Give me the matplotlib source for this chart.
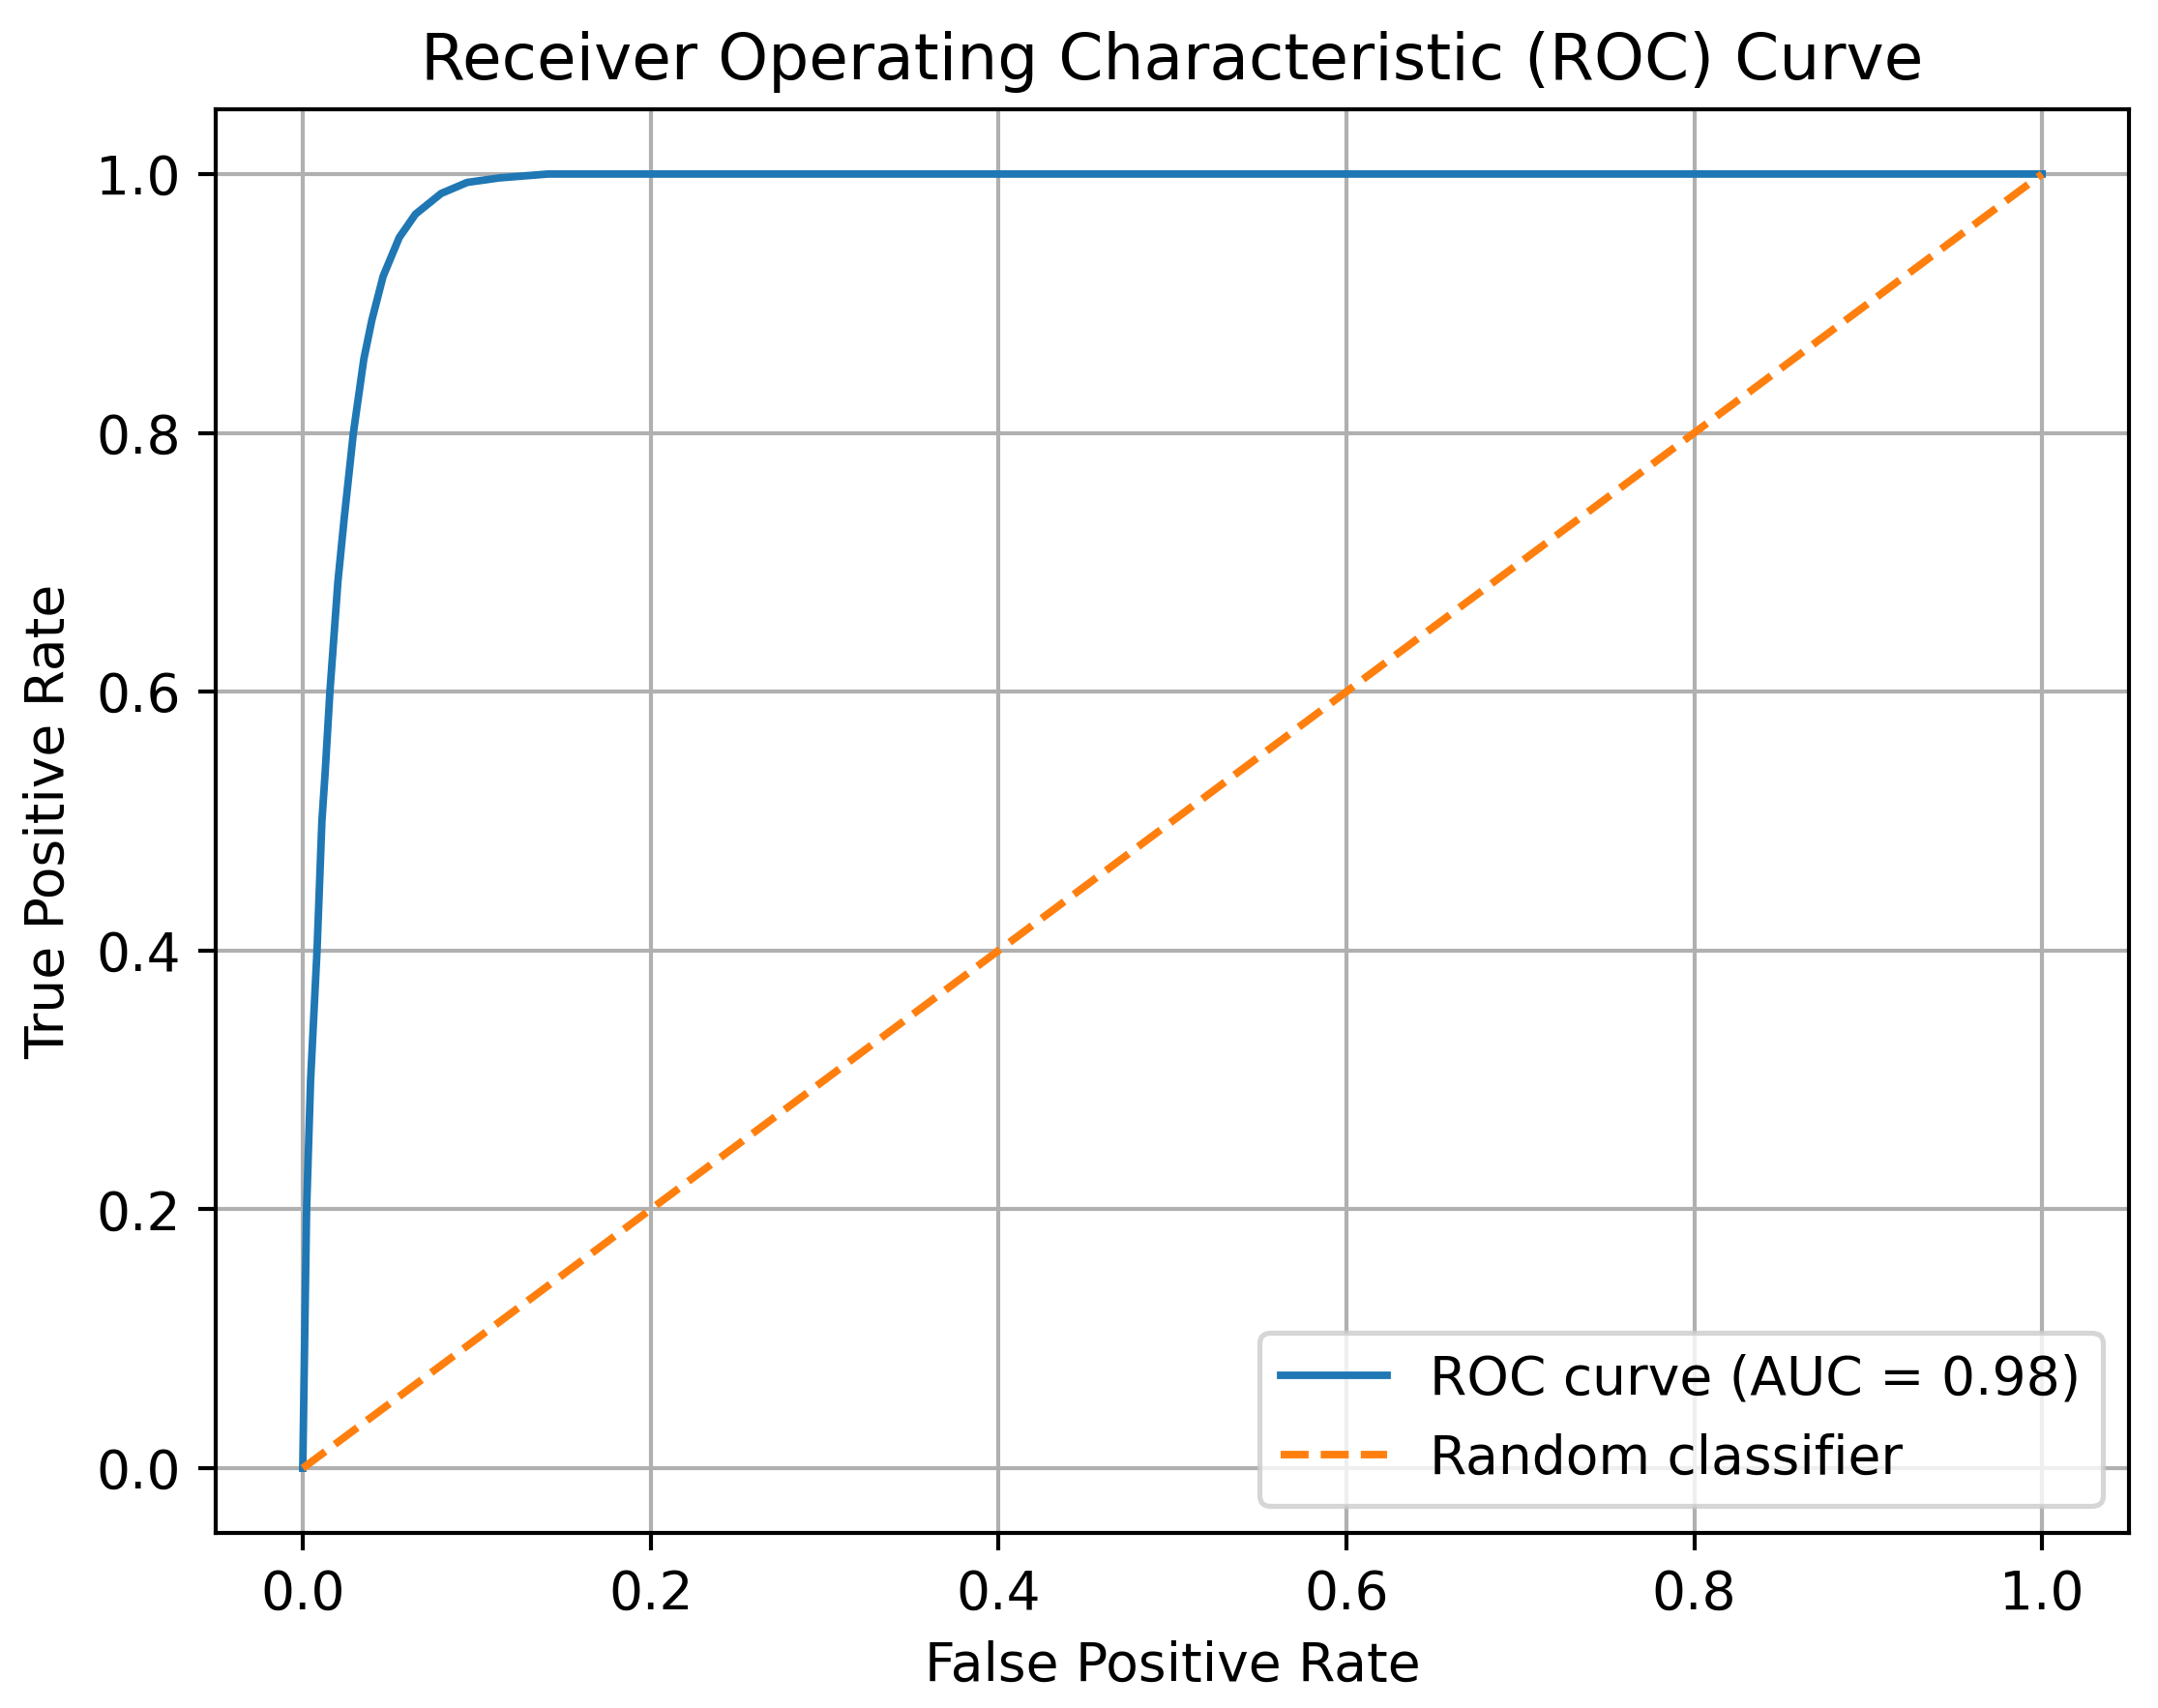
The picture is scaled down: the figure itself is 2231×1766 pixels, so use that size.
import matplotlib
matplotlib.use("Agg")
import matplotlib.pyplot as plt

plt.rcParams["font.size"] = 10.6
plt.rcParams["axes.titlesize"] = 12.7

# ROC curve
fpr = [0.0, 0.0022, 0.0045, 0.0082, 0.011, 0.0128, 0.0156, 0.0175, 0.0202,
       0.0239, 0.0291, 0.0351, 0.0397, 0.0462, 0.0555, 0.0648, 0.0796,
       0.0945, 0.113, 0.141, 1.0]
tpr = [0.0, 0.2, 0.3, 0.4, 0.5, 0.536, 0.6, 0.635, 0.685,
       0.735, 0.8, 0.857, 0.887, 0.921, 0.951, 0.969, 0.985,
       0.9935, 0.997, 1.0, 1.0]
roc_auc = 0.98

# diagonal of the random classifier
rand_x = [0, 1]
rand_y = [0, 1]

fig = plt.figure(figsize=(2231 / 375, 1766 / 375), dpi=375)
ax = fig.add_subplot(111)
fig.subplots_adjust(left=0.1, right=0.9866, top=0.936, bottom=0.1025)

ax.plot(fpr, tpr, label=f"ROC curve (AUC = {roc_auc:.2f})")
ax.plot(rand_x, rand_y, linestyle="--", label="Random classifier")
ax.set_xlabel("False Positive Rate")
ax.set_ylabel("True Positive Rate")
ax.set_title("Receiver Operating Characteristic (ROC) Curve")
ax.legend(loc="lower right")
ax.grid(True)

fig.savefig("out.png", dpi=375)
